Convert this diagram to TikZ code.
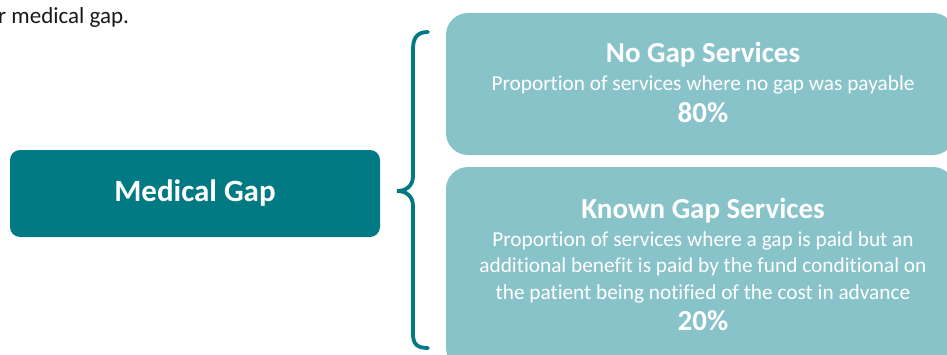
\documentclass[tikz,border=0pt]{standalone}
\usepackage{fontspec}
\setmainfont{Carlito}[Ligatures={NoCommon}]
\definecolor{darkteal}{HTML}{027A84}
\definecolor{lightteal}{HTML}{89C3CA}
\begin{document}
\begin{tikzpicture}[x=1pt,y=1pt,
  darkbox/.style={fill=darkteal,rounded corners=10pt,inner sep=0pt},
  lightbox/.style={fill=lightteal,rounded corners=22pt,inner sep=0pt},
  ttl/.style={anchor=base,text=white,inner sep=0pt,font=\fontsize{29}{35}\selectfont\bfseries},
  body/.style={anchor=base,text=white,inner sep=0pt,font=\fontsize{21.3}{26}\selectfont},
  pct/.style={anchor=base,text=white,inner sep=0pt,font=\fontsize{29}{35}\selectfont\bfseries},
  bracestyle/.style={draw=darkteal,line width=3.8pt,line cap=round}]
\clip (0,0) rectangle (947,354);
\path[use as bounding box] (0,0) rectangle (947,354);
% intro text
\node[anchor=base west,inner sep=0pt,font=\fontsize{23}{28}\selectfont,text=black!90] (intro) at (-2,330) {r medical gap.};
% main box
\node[darkbox,minimum width=370pt,minimum height=87pt] (med) at (195,160.5) {};
\node[anchor=center,text=white,inner sep=0pt,font=\fontsize{31}{37}\selectfont\bfseries] (medtxt) at (med.center) {Medical Gap};
% light boxes
\node[lightbox,minimum width=509pt,minimum height=142pt] (nogap) at (700.5,270) {};
\node[lightbox,minimum width=509pt,minimum height=203pt] (known) at (700.5,85.5) {};
% brace
\coordinate (bt) at (428,322);
\coordinate (bb) at (428,6);
\coordinate (btip) at (397,163);
\draw[bracestyle] (bt) .. controls (417,322) and (413,316) .. (413,305)
  -- (413,178) .. controls (413,168) and (406,163) .. (btip)
  .. controls (406,163) and (413,158) .. (413,148)
  -- (413,20) .. controls (413,10) and (417,6) .. (bb);
% texts top box
\node[ttl] (t1) at (703,291) {No Gap Services};
\node[body] (t2) at (703,263) {Proportion of services where no gap was payable};
\node[pct] (t3) at (703,231) {80\%};
% texts bottom box
\node[ttl] (k1) at (703,136) {Known Gap Services};
\node[body] (k2) at (703,107.5) {Proportion of services where a gap is paid but an};
\node[body] (k3) at (703,81.5) {additional benefit is paid by the fund conditional on};
\node[body] (k4) at (703,55) {the patient being notified of the cost in advance};
\node[pct] (k5) at (703,24) {20\%};
\end{tikzpicture}
\end{document}
